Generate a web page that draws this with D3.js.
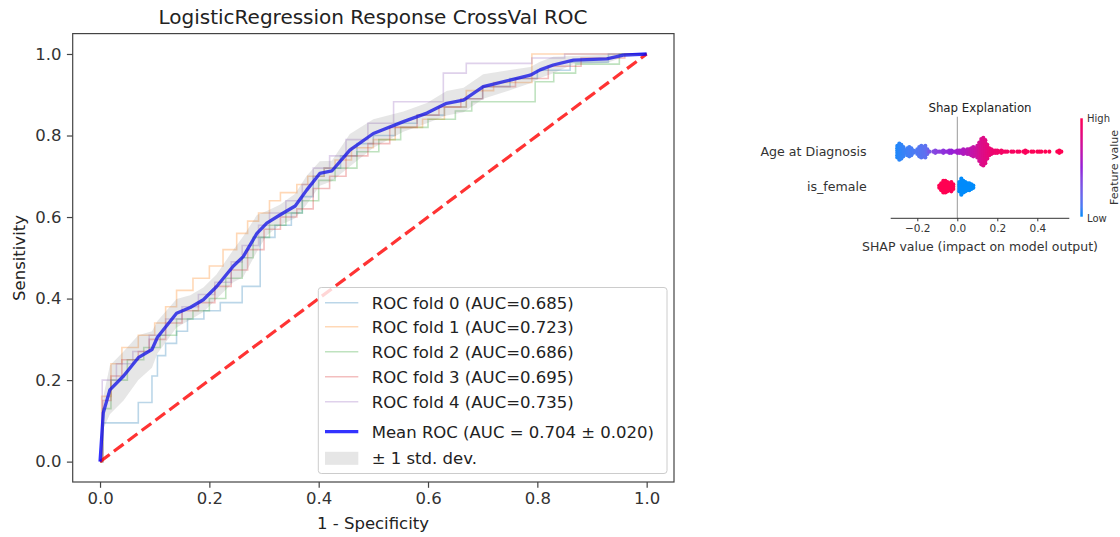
<!DOCTYPE html>
<html><head><meta charset="utf-8">
<script src="https://cdn.jsdelivr.net/npm/d3@7"></script>
<style>body{margin:0;background:#fff} text{font-family:"DejaVu Sans",sans-serif}</style>
</head><body><svg id="c" width="1120" height="537"></svg>
<script>
// ---------- ROC data ----------
const xTicks = [0, 0.2, 0.4, 0.6, 0.8, 1.0];
const yTicks = [0, 0.2, 0.4, 0.6, 0.8, 1.0];
const meanFpr = [0,0.006,0.018,0.043,0.07,0.095,0.105,0.14,0.165,0.189,0.213,0.244,0.262,0.287,0.305,0.329,0.357,0.378,0.402,0.424,0.457,0.5,0.555,0.598,0.634,0.665,0.701,0.75,0.787,0.805,0.829,0.866,0.927,0.957,1];
const meanTpr = [0,0.12,0.176,0.21,0.255,0.275,0.305,0.364,0.378,0.397,0.429,0.48,0.503,0.56,0.585,0.605,0.627,0.666,0.707,0.713,0.764,0.805,0.834,0.855,0.879,0.887,0.92,0.936,0.948,0.961,0.973,0.985,0.988,0.997,1];
const stdTpr  = [0,0.04,0.06,0.06,0.055,0.045,0.04,0.035,0.03,0.03,0.03,0.04,0.05,0.045,0.03,0.025,0.03,0.035,0.03,0.025,0.04,0.035,0.025,0.025,0.03,0.03,0.03,0.025,0.02,0.02,0.02,0.01,0.01,0.005,0];
const fold0 = [[0,0],[0.005,0.095],[0.07,0.145],[0.095,0.21],[0.105,0.26],[0.12,0.29],[0.14,0.32],[0.16,0.35],[0.19,0.37],[0.22,0.39],[0.26,0.43],[0.293,0.55],[0.32,0.58],[0.35,0.61],[0.37,0.65],[0.39,0.7],[0.41,0.72],[0.44,0.75],[0.47,0.78],[0.5,0.8],[0.54,0.83],[0.58,0.85],[0.63,0.87],[0.67,0.89],[0.7,0.92],[0.75,0.94],[0.8,0.96],[0.86,0.98],[0.93,1],[1,1]];
const fold1 = [[0,0],[0.003,0.16],[0.02,0.24],[0.04,0.28],[0.07,0.31],[0.1,0.34],[0.12,0.38],[0.14,0.42],[0.17,0.45],[0.2,0.48],[0.225,0.52],[0.25,0.56],[0.27,0.59],[0.29,0.61],[0.31,0.64],[0.33,0.66],[0.36,0.68],[0.38,0.7],[0.41,0.72],[0.43,0.74],[0.46,0.77],[0.5,0.79],[0.54,0.82],[0.59,0.84],[0.63,0.87],[0.67,0.91],[0.72,0.93],[0.79,1],[1,1]];
const fold2 = [[0,0],[0.005,0.13],[0.02,0.2],[0.05,0.25],[0.08,0.28],[0.11,0.31],[0.14,0.35],[0.17,0.37],[0.2,0.4],[0.23,0.45],[0.26,0.5],[0.28,0.55],[0.31,0.58],[0.34,0.61],[0.37,0.64],[0.4,0.69],[0.43,0.72],[0.47,0.76],[0.51,0.79],[0.55,0.82],[0.6,0.84],[0.65,0.86],[0.68,0.883],[0.796,0.932],[0.83,0.953],[0.87,0.975],[0.95,1],[1,1]];
const fold3 = [[0,0],[0.005,0.15],[0.02,0.21],[0.04,0.25],[0.07,0.27],[0.09,0.3],[0.12,0.34],[0.15,0.37],[0.18,0.39],[0.21,0.43],[0.24,0.47],[0.27,0.52],[0.3,0.57],[0.33,0.6],[0.36,0.62],[0.39,0.67],[0.42,0.7],[0.45,0.75],[0.49,0.78],[0.53,0.82],[0.58,0.85],[0.62,0.87],[0.66,0.89],[0.7,0.92],[0.76,0.94],[0.82,0.97],[0.88,0.99],[0.96,1],[1,1]];
const fold4 = [[0,0],[0.004,0.2],[0.03,0.24],[0.06,0.27],[0.09,0.31],[0.12,0.35],[0.15,0.38],[0.18,0.41],[0.21,0.44],[0.24,0.49],[0.26,0.53],[0.29,0.58],[0.31,0.61],[0.34,0.64],[0.37,0.68],[0.39,0.72],[0.42,0.75],[0.45,0.79],[0.49,0.83],[0.537,0.883],[0.628,0.953],[0.67,0.977],[0.79,0.99],[0.85,1],[1,1]];
const folds = [fold0, fold1, fold2, fold3, fold4];
const foldAuc = ["0.685","0.723","0.686","0.695","0.735"];
const foldColors = ["#1f77b4","#ff7f0e","#2ca02c","#d62728","#9467bd"];
const meanLabel = "Mean ROC (AUC = 0.704 \u00b1 0.020)";
const stdLabel = "\u00b1 1 std. dev.";

// ---------- SHAP data ----------
const shapFeatures = ["Age at Diagnosis", "is_female"];
const shapTicks = [-0.2, 0.0, 0.2, 0.4];
const ageShap  = [-0.30,-0.29,-0.28,-0.27,-0.26,-0.25,-0.24,-0.23,-0.22,-0.21,-0.20,-0.19,-0.18,-0.17,-0.16,-0.15,-0.14,-0.12,-0.11,-0.10,-0.09,-0.08,-0.07,-0.06,-0.05,-0.04,-0.03,-0.02,-0.01,0.00,0.01,0.02,0.03,0.04,0.05,0.06,0.07,0.08,0.09,0.10,0.11,0.12,0.13,0.14,0.15,0.16,0.17,0.18,0.19,0.20,0.21,0.22,0.23,0.24,0.25,0.27,0.28,0.30,0.31,0.33,0.34,0.35,0.37,0.38,0.40,0.41,0.42,0.44,0.46,0.50,0.51,0.52];
const ageCount = [6,8,7,5,2,4,5,4,2,1,3,5,6,5,6,3,1,1,2,1,1,1,2,1,1,2,2,1,1,2,2,2,3,2,3,3,4,5,4,6,9,12,13,11,7,4,3,2,2,2,1,2,1,1,1,1,1,1,1,1,2,1,1,1,1,1,1,1,1,1,2,1];
const ageFeat  = [0.02,0.03,0.04,0.05,0.06,0.07,0.08,0.09,0.1,0.11,0.12,0.13,0.14,0.15,0.16,0.2,0.3,0.36,0.38,0.4,0.42,0.43,0.45,0.46,0.47,0.48,0.5,0.51,0.52,0.54,0.56,0.57,0.59,0.6,0.62,0.64,0.66,0.68,0.7,0.72,0.75,0.78,0.8,0.82,0.84,0.86,0.88,0.89,0.9,0.91,0.92,0.93,0.93,0.94,0.94,0.95,0.95,0.96,0.96,0.97,0.97,0.97,0.98,0.98,0.99,0.99,0.99,1,1,1,1,1];
const femaleShap  = [-0.09,-0.08,-0.07,-0.06,-0.05,-0.04,-0.03,-0.02,0.01,0.02,0.03,0.04,0.05,0.06,0.07,0.08];
const femaleCount = [2,4,6,6,5,4,5,3,5,8,6,5,4,4,3,2];
const femaleFeat  = [1,1,1,1,1,1,1,1,0,0,0,0,0,0,0,0];

// ---------- drawing ----------
const svg = d3.select("#c");
const FS = 16.5;
const x = d3.scaleLinear().domain([-0.05, 1.05]).range([72.7, 674]);
const y = d3.scaleLinear().domain([-0.05, 1.05]).range([482, 33.6]);

const clipId = "pclip";
svg.append("defs").append("clipPath").attr("id", clipId)
  .append("rect").attr("x", 72.7).attr("y", 33.6).attr("width", 674-72.7).attr("height", 482-33.6);
const plot = svg.append("g").attr("clip-path", `url(#${clipId})`);

const stepLine = d3.line().x(d => x(d[0])).y(d => y(d[1])).curve(d3.curveStepAfter);
folds.forEach((f, i) => {
  plot.append("path").attr("d", stepLine(f)).attr("fill", "none")
    .attr("stroke", foldColors[i]).attr("stroke-opacity", 0.3).attr("stroke-width", 1.6);
});
plot.append("path").attr("d", d3.line()([[x(0), y(0)], [x(1), y(1)]]))
  .attr("stroke", "#ff0000").attr("stroke-opacity", 0.8).attr("stroke-width", 3.2)
  .attr("stroke-dasharray", "12,5.3").attr("fill", "none");
const meanPts = meanFpr.map((f, i) => [f, meanTpr[i]]);
plot.append("path").attr("d", d3.line().x(d => x(d[0])).y(d => y(d[1]))(meanPts))
  .attr("fill", "none").attr("stroke", "#0000ff").attr("stroke-opacity", 0.8).attr("stroke-width", 3.3)
  .attr("stroke-linejoin", "round");
const area = d3.area().x((d, i) => x(meanFpr[i]))
  .y0((d, i) => y(Math.max(meanTpr[i] - stdTpr[i], 0)))
  .y1((d, i) => y(Math.min(meanTpr[i] + stdTpr[i], 1)));
plot.append("path").attr("d", area(meanFpr)).attr("fill", "#808080").attr("fill-opacity", 0.2);

svg.append("rect").attr("x", 72.7).attr("y", 33.6).attr("width", 674-72.7).attr("height", 482-33.6)
  .attr("fill", "none").attr("stroke", "#444").attr("stroke-width", 1.2);

const xAxis = svg.append("g").attr("transform", "translate(0,482)")
  .call(d3.axisBottom(x).tickValues(xTicks).tickFormat(d3.format(".1f")).tickSize(5.8).tickPadding(4));
const yAxis = svg.append("g").attr("transform", "translate(72.7,0)")
  .call(d3.axisLeft(y).tickValues(yTicks).tickFormat(d3.format(".1f")).tickSize(5.8).tickPadding(5.5));
[xAxis, yAxis].forEach(a => {
  a.select(".domain").remove();
  a.selectAll(".tick line").attr("stroke", "#444").attr("stroke-width", 1.2);
  a.selectAll(".tick text").attr("font-size", FS).attr("fill", "#333").attr("font-family", "DejaVu Sans");
});

svg.append("text").attr("x", 373).attr("y", 24).attr("text-anchor", "middle")
  .attr("font-size", 20).attr("fill", "#222").text("LogisticRegression Response CrossVal ROC");
svg.append("text").attr("x", 373).attr("y", 529).attr("text-anchor", "middle")
  .attr("font-size", FS).attr("fill", "#222").text("1 - Specificity");
svg.append("text").attr("transform", "translate(25,258) rotate(-90)").attr("text-anchor", "middle")
  .attr("font-size", FS).attr("fill", "#222").text("Sensitivity");

const lg = svg.append("g");
lg.append("rect").attr("x", 318.3).attr("y", 287.5).attr("width", 667-318.3).attr("height", 473.5-287.5)
  .attr("rx", 3).attr("fill", "#fff").attr("fill-opacity", 0.8).attr("stroke", "#cccccc").attr("stroke-width", 1);
const rowY = [302.7, 326.7, 351.7, 376.7, 401.7, 431.7, 458.3];
folds.forEach((f, i) => {
  lg.append("line").attr("x1", 325).attr("x2", 358.3).attr("y1", rowY[i]).attr("y2", rowY[i])
    .attr("stroke", foldColors[i]).attr("stroke-opacity", 0.3).attr("stroke-width", 1.6);
  lg.append("text").attr("x", 371.7).attr("y", rowY[i]).attr("dy", "0.36em").attr("font-size", FS)
    .attr("fill", "#222").text(`ROC fold ${i} (AUC=${foldAuc[i]})`);
});
lg.append("line").attr("x1", 325).attr("x2", 358.3).attr("y1", rowY[5]).attr("y2", rowY[5])
  .attr("stroke", "#0000ff").attr("stroke-opacity", 0.8).attr("stroke-width", 3.3);
lg.append("text").attr("x", 371.7).attr("y", rowY[5]).attr("dy", "0.36em").attr("font-size", FS)
  .attr("fill", "#222").text(meanLabel);
lg.append("rect").attr("x", 325).attr("y", rowY[6]-6.5).attr("width", 33.3).attr("height", 13)
  .attr("fill", "#808080").attr("fill-opacity", 0.2);
lg.append("text").attr("x", 371.7).attr("y", rowY[6]).attr("dy", "0.36em").attr("font-size", FS)
  .attr("fill", "#222").text(stdLabel);

// ---------- SHAP panel ----------
const xs = d3.scaleLinear().domain([-0.2, 0.4]).range([917.3, 1037.3]);
const rowsY = d3.scalePoint().domain(shapFeatures).range([151.7, 186.7]);
const color = d3.scaleLinear().domain([0, 0.5, 1]).range(["#008bfb", "#9420d8", "#ff0052"]).interpolate(d3.interpolateLab);
const sh = svg.append("g");
sh.append("text").attr("x", 980).attr("y", 108).attr("dy", "0.36em").attr("text-anchor", "middle")
  .attr("font-size", 11.8).attr("fill", "#222").text("Shap Explanation");
sh.append("line").attr("x1", xs(0)).attr("x2", xs(0)).attr("y1", 116.7).attr("y2", 218.3)
  .attr("stroke", "#999").attr("stroke-width", 1);
function swarm(vals, counts, feats, row) {
  const pts = [];
  const step = 2.3;
  vals.forEach((v, i) => {
    const n = counts[i];
    for (let k = 0; k < n; k++) pts.push({v, f: feats[i], off: (k - (n - 1) / 2) * step});
  });
  sh.append("g").selectAll("circle").data(pts).join("circle")
    .attr("cx", d => xs(d.v)).attr("cy", d => rowsY(row) + d.off).attr("r", 2.1)
    .attr("fill", d => color(d.f));
}
swarm(ageShap, ageCount, ageFeat, shapFeatures[0]);
swarm(femaleShap, femaleCount, femaleFeat, shapFeatures[1]);
shapFeatures.forEach(f => {
  sh.append("text").attr("x", 866.7).attr("y", rowsY(f)).attr("dy", "0.36em").attr("text-anchor", "end")
    .attr("font-size", 12.6).attr("fill", "#333").text(f);
});
const sAxis = sh.append("g").attr("transform", "translate(0,218.3)")
  .call(d3.axisBottom(xs).tickValues(shapTicks).tickFormat(d => d3.format(".1f")(d).replace("-", "\u2212")).tickSize(3).tickPadding(3));
sAxis.select(".domain").remove();
sAxis.selectAll(".tick line").attr("stroke", "#333");
sAxis.selectAll(".tick text").attr("font-size", 10.5).attr("fill", "#333").attr("font-family", "DejaVu Sans");
sh.append("line").attr("x1", 890.7).attr("x2", 1069.3).attr("y1", 218.3).attr("y2", 218.3)
  .attr("stroke", "#333").attr("stroke-width", 1);
sh.append("text").attr("x", 980).attr("y", 246.7).attr("dy", "0.36em").attr("text-anchor", "middle")
  .attr("font-size", 12.5).attr("fill", "#333").text("SHAP value (impact on model output)");
const grad = svg.select("defs").append("linearGradient").attr("id", "cb")
  .attr("x1", 0).attr("x2", 0).attr("y1", 1).attr("y2", 0);
d3.range(0, 1.001, 0.1).forEach(t => grad.append("stop").attr("offset", t).attr("stop-color", color(t)));
sh.append("rect").attr("x", 1080.3).attr("y", 118.3).attr("width", 2.5).attr("height", 216.7-118.3).attr("fill", "url(#cb)");
sh.append("text").attr("x", 1087).attr("y", 118.3).attr("dy", "0.36em").attr("font-size", 10).attr("fill", "#333").text("High");
sh.append("text").attr("x", 1087).attr("y", 218.5).attr("dy", "0.36em").attr("font-size", 10).attr("fill", "#333").text("Low");
sh.append("text").attr("transform", "translate(1114,167.5) rotate(-90)").attr("dy", "0.36em").attr("text-anchor", "middle")
  .attr("font-size", 11).attr("fill", "#333").text("Feature value");
</script></body></html>
